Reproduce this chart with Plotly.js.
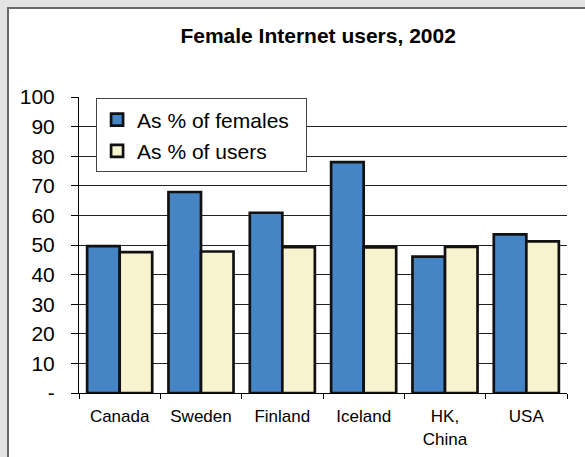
<!DOCTYPE html>
<html>
<head>
<meta charset="utf-8">
<script src="https://cdn.plot.ly/plotly-3.0.1.min.js"></script>
<style>
  html, body { margin: 0; padding: 0; background: #e4e4e4; width: 585px; height: 457px; overflow: hidden; }
  #frame { position: absolute; left: 7px; top: 7px; width: 578px; height: 450px;
           border-left: 2px solid #6a6a6a; border-top: 2px solid #6a6a6a; background: #ffffff; box-sizing: border-box; }
  #chart { position: absolute; left: 0; top: 0; width: 576px; height: 448px; }
</style>
</head>
<body>
<div id="frame"><div id="chart"></div></div>
<script>
const categories = ['Canada', 'Sweden', 'Finland', 'Iceland', 'HK,<br>China', 'USA'];
const seriesNames = ['As % of females', 'As % of users'];
const pctOfFemales = [49.6, 67.9, 60.9, 78.0, 46.1, 53.6];
const pctOfUsers = [47.6, 47.8, 49.3, 49.2, 49.4, 51.2];
const yTickVals = [0, 10, 20, 30, 40, 50, 60, 70, 80, 90, 100];
const yTickText = ['-', '10', '20', '30', '40', '50', '60', '70', '80', '90', '100'];

const FONT = 'Liberation Sans, Arial, sans-serif';
const PAD = '\u00a0\u00a0';

const traces = [
  {
    type: 'bar', name: seriesNames[0] + PAD, x: categories, y: pctOfFemales,
    legendgroup: 'a',
    marker: { color: '#4585c5', line: { color: '#111111', width: 2.7 } }
  },
  {
    type: 'bar', name: seriesNames[1], x: categories, y: pctOfUsers,
    legendgroup: 'b',
    marker: { color: '#f8f3cf', line: { color: '#111111', width: 2.7 } }
  }
];

const layout = {
  width: 576, height: 448,
  margin: { l: 70, r: 18, t: 88, b: 64 },
  paper_bgcolor: '#ffffff', plot_bgcolor: '#ffffff',
  font: { family: FONT, color: '#000000' },
  barmode: 'group', bargap: 0.2, bargroupgap: 0,
  title: {
    text: '<b>Female Internet users, 2002</b>',
    font: { family: FONT, size: 21, color: '#000000' },
    xref: 'paper', x: 0.49, xanchor: 'center',
    yref: 'container', y: 0.94, yanchor: 'middle'
  },
  xaxis: {
    type: 'category',
    showline: true, linecolor: '#000000', linewidth: 1,
    ticks: 'outside', tickson: 'boundaries', ticklen: 5, tickcolor: '#000000', tickwidth: 1,
    ticklabelstandoff: 8,
    tickfont: { family: FONT, size: 17, color: '#000000' },
    showgrid: false, zeroline: false, fixedrange: true
  },
  yaxis: {
    range: [0, 100],
    tickvals: yTickVals, ticktext: yTickText,
    showline: true, linecolor: '#000000', linewidth: 1,
    ticks: 'outside', ticklen: 7, tickcolor: '#000000', tickwidth: 1,
    ticklabelstandoff: 12,
    tickfont: { family: FONT, size: 21, color: '#000000' },
    showgrid: true, gridcolor: '#222222', gridwidth: 1,
    zeroline: false, fixedrange: true
  },
  showlegend: true,
  legend: {
    x: 0.035, xanchor: 'left', y: 0.995, yanchor: 'top',
    bgcolor: '#ffffff', bordercolor: '#444444', borderwidth: 1,
    traceorder: 'grouped', tracegroupgap: 1,
    font: { family: FONT, size: 21, color: '#000000' }
  }
};

Plotly.newPlot('chart', traces, layout, { displayModeBar: false, staticPlot: true });
</script>
</body>
</html>
